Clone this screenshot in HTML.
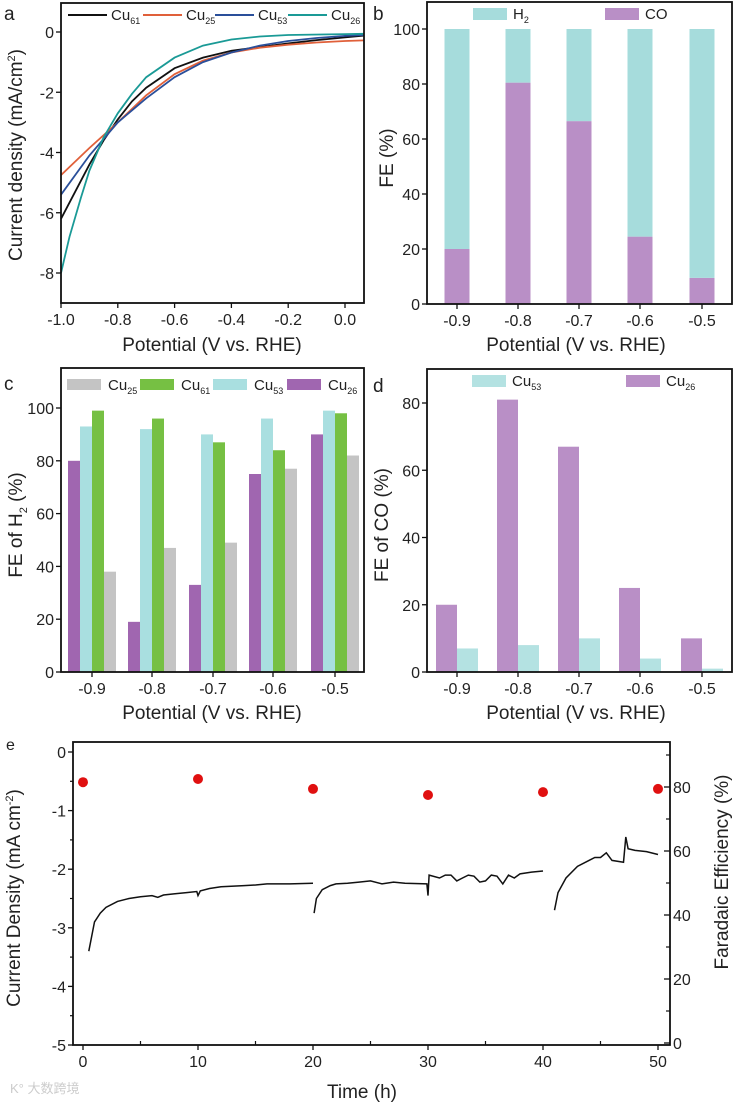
<!DOCTYPE html>
<html><head><meta charset="utf-8"><style>
body{margin:0;background:#fff}
svg{display:block;font-family:"Liberation Sans",Arial,sans-serif}
</style></head><body>
<svg id="fig" width="733" height="1104" viewBox="0 0 733 1104" xmlns="http://www.w3.org/2000/svg"></svg>
<script>
// ---- Panel a data ----
const aNames=["Cu61","Cu25","Cu53","Cu26"];
const aColors=["#111","#e0603a","#2a4f9a","#1a9a96"];
const aX61=[-1,-0.95,-0.9,-0.85,-0.8,-0.75,-0.7,-0.6,-0.5,-0.4,-0.3,-0.2,-0.1,0,0.067];
const aY61=[-6.2,-5.3,-4.4,-3.6,-2.9,-2.3,-1.85,-1.2,-0.85,-0.62,-0.5,-0.38,-0.27,-0.18,-0.12];
const aX25=[-1,-0.9,-0.8,-0.7,-0.6,-0.5,-0.4,-0.3,-0.2,-0.1,0,0.067];
const aY25=[-4.75,-3.85,-3.0,-2.1,-1.4,-0.95,-0.68,-0.52,-0.42,-0.35,-0.3,-0.28];
const aX53=[-1,-0.9,-0.8,-0.7,-0.6,-0.5,-0.4,-0.3,-0.2,-0.1,0,0.067];
const aY53=[-5.4,-4.1,-3.0,-2.2,-1.5,-1.0,-0.68,-0.45,-0.3,-0.2,-0.13,-0.1];
const aX26=[-1,-0.97,-0.93,-0.9,-0.85,-0.8,-0.75,-0.7,-0.6,-0.5,-0.4,-0.3,-0.2,0,0.067];
const aY26=[-8.0,-6.8,-5.5,-4.6,-3.5,-2.7,-2.05,-1.5,-0.85,-0.45,-0.25,-0.15,-0.1,-0.07,-0.06];
// ---- Panel b-d data ----
const potentials=["-0.9","-0.8","-0.7","-0.6","-0.5"];
const bCO=[20,80.5,66.5,24.5,9.5];
const cCu26=[80,19,33,75,90];
const cCu53=[93,92,90,96,99];
const cCu61=[99,96,87,84,98];
const cCu25=[38,47,49,77,82];
const dCu26=[20,81,67,25,10];
const dCu53=[7,8,10,4,1];
// ---- Panel e data ----
const eT1=[0.5,1,1.5,2,3,4,5,6,6.5,7,8,9,9.9,10,10.2,11,12,14,15,16,18,20];
const eJ1=[-3.4,-2.9,-2.75,-2.65,-2.55,-2.5,-2.47,-2.45,-2.48,-2.44,-2.42,-2.4,-2.38,-2.45,-2.37,-2.33,-2.3,-2.28,-2.27,-2.25,-2.25,-2.24];
const eT2=[20.1,20.3,20.8,21.5,22,23,24,25,26,27,28,29.9,30,30.1,31,31.5,32,32.5,33,33.5,34,34.5,35,35.5,36,36.5,37,37.5,38,39,40];
const eJ2=[-2.75,-2.5,-2.35,-2.28,-2.25,-2.24,-2.22,-2.2,-2.25,-2.22,-2.24,-2.25,-2.45,-2.1,-2.15,-2.1,-2.1,-2.2,-2.15,-2.1,-2.12,-2.22,-2.2,-2.1,-2.12,-2.25,-2.1,-2.15,-2.08,-2.05,-2.03];
const eT3=[41,41.3,42,43,44,44.5,45,45.5,46,47,47.2,47.4,48,49,50];
const eJ3=[-2.7,-2.4,-2.15,-1.95,-1.85,-1.8,-1.8,-1.72,-1.85,-1.88,-1.45,-1.65,-1.68,-1.7,-1.75];
const eTimes=[0,10,20,30,40,50];
const eFE=[81.5,82.5,79.4,77.5,78.4,79.4];

const S="http://www.w3.org/2000/svg";
const svg=document.getElementById('fig');
const TS=16, TT=19;
function el(tag,attrs,parent){const e=document.createElementNS(S,tag);for(const k in attrs)e.setAttribute(k,attrs[k]);(parent||svg).appendChild(e);return e;}
function txt(x,y,s,size,anchor,parent,rot){const t=el('text',{x:x,y:y,'font-size':size,'text-anchor':anchor||'middle',fill:'#222'},parent);if(rot)t.setAttribute('transform',`rotate(${rot} ${x} ${y})`);t.innerHTML=s;return t;}
function lin(d0,d1,r0,r1){return v=>r0+(v-d0)*(r1-r0)/(d1-d0);}
function box(x0,y0,x1,y1,name){const r=el('rect',{x:x0,y:y0,width:x1-x0,height:y1-y0,fill:'none',stroke:'#111','stroke-width':1.8});

}
function ytick(x,y,label,size,side){const d=side==='r'?1:-1;el('line',{x1:x,y1:y,x2:x+d*5,y2:y,stroke:'#111','stroke-width':1.3});
const t=txt(x+d*7,y+6,label,size,side==='r'?'start':'end');

}
function xtick(x,y,label,size){el('line',{x1:x,y1:y,x2:x,y2:y+5,stroke:'#111','stroke-width':1.3});
if(label!==null){const t=txt(x,y+22,label,size);

}}
function sub(s){return `<tspan>${s.slice(0,2)}</tspan><tspan font-size="9" dy="4">${s.slice(2)}</tspan>`;}

// ===== Panel a =====
(function(){
const g=el('g',{});


const X=lin(-1,0,61,345),Y=lin(0,-8,32,273);
const series=[[aX61,aY61],[aX25,aY25],[aX53,aY53],[aX26,aY26]];
series.forEach((s,i)=>{let d='';s[0].forEach((x,j)=>{d+=(j?'L':'M')+X(x).toFixed(1)+' '+Y(s[1][j]).toFixed(1);});
const p=el('path',{d:d,fill:'none',stroke:aColors[i],'stroke-width':1.8},g);

});
box(61,3,364,303,'panel-a-axes');
[0,-2,-4,-6,-8].forEach(v=>ytick(61,Y(v),v,TS));
[-1.0,-0.8,-0.6,-0.4,-0.2,0.0].forEach(v=>xtick(X(v),303,v.toFixed(1),TS));
const t1=txt(212,351,'Potential (V vs. RHE)',TT);
const t2=txt(22,155,'Current density (mA/cm<tspan font-size="11" dy="-7">2</tspan><tspan dy="7">)</tspan>',TT,'middle',null,-90);
const L=txt(4,20,'a',19,'start');
const lx=[68,143,215,288];
aNames.forEach((n,i)=>{el('line',{x1:lx[i],y1:15,x2:lx[i]+39,y2:15,stroke:aColors[i],'stroke-width':2});
const t=txt(lx[i]+43,20,sub(n),15,'start');

});
})();

// ===== Panel b =====
(function(){
const Y=lin(0,100,304,29);const cx=[457,518,579,640,702];
potentials.forEach((p,i)=>{
const co=el('rect',{x:cx[i]-12.5,y:Y(bCO[i]),width:25,height:Y(0)-Y(bCO[i]),fill:'#b98fc6'});


const h=el('rect',{x:cx[i]-12.5,y:Y(100),width:25,height:Y(bCO[i])-Y(100),fill:'#a6dcdc'});


xtick(cx[i],304,p,TS);});
box(427,2,732,304,'panel-b-axes');
[0,20,40,60,80,100].forEach(v=>ytick(427,Y(v),v,TS));
const t1=txt(576,351,'Potential (V vs. RHE)',TT);
const t2=txt(393,158,'FE (%)',TT,'middle',null,-90);
const L=txt(373,20,'b',19,'start');
el('rect',{x:473,y:8,width:34,height:12,fill:'#a6dcdc'});
const a=txt(513,19,'H<tspan font-size="9" dy="4">2</tspan>',15,'start');
el('rect',{x:605,y:8,width:34,height:12,fill:'#b98fc6'});
const b=txt(645,19,'CO',15,'start');
})();

// ===== Panel c =====
(function(){
const Y=lin(0,100,672,408);const cx=[92,152,213,273,335];
const sets=[[cCu26,'#a066b0','cu26'],[cCu53,'#a9dfe0','cu53'],[cCu61,'#76c043','cu61'],[cCu25,'#c4c4c4','cu25']];
potentials.forEach((p,i)=>{sets.forEach((s,k)=>{
const r=el('rect',{x:cx[i]-24+k*12,y:Y(s[0][i]),width:12,height:Y(0)-Y(s[0][i]),fill:s[1]});

});
xtick(cx[i],672,p,TS);});
box(61,368,364,672,'panel-c-axes');
[0,20,40,60,80,100].forEach(v=>ytick(61,Y(v),v,TS));
const t1=txt(212,719,'Potential (V vs. RHE)',TT);
const t2=txt(22,525,'FE of H<tspan font-size="11" dy="5">2</tspan><tspan dy="-5"> (%)</tspan>',TT,'middle',null,-90);
const L=txt(4,390,'c',19,'start');
const leg=[[67,'#c4c4c4','Cu25'],[140,'#76c043','Cu61'],[213,'#a9dfe0','Cu53'],[287,'#a066b0','Cu26']];
leg.forEach(l=>{el('rect',{x:l[0],y:379,width:34,height:11,fill:l[1]});
const t=txt(l[0]+41,390,sub(l[2]),15,'start');

});
})();

// ===== Panel d =====
(function(){
const Y=lin(0,80,672,403);const cx=[457,518,579,640,702];
potentials.forEach((p,i)=>{
const a=el('rect',{x:cx[i]-21,y:Y(dCu26[i]),width:21,height:Y(0)-Y(dCu26[i]),fill:'#b98fc6'});


const b=el('rect',{x:cx[i],y:Y(dCu53[i]),width:21,height:Y(0)-Y(dCu53[i]),fill:'#b4e2e2'});


xtick(cx[i],672,p,TS);});
box(427,369,732,672,'panel-d-axes');
[0,20,40,60,80].forEach(v=>ytick(427,Y(v),v,TS));
const t1=txt(576,719,'Potential (V vs. RHE)',TT);
const t2=txt(388,525,'FE of CO (%)',TT,'middle',null,-90);
const L=txt(373,392,'d',19,'start');
el('rect',{x:472,y:375,width:34,height:12,fill:'#b4e2e2'});
const a=txt(512,386,sub('Cu53'),15,'start');
el('rect',{x:626,y:375,width:34,height:12,fill:'#b98fc6'});
const b=txt(666,386,sub('Cu26'),15,'start');
})();

// ===== Panel e =====
(function(){
const X=lin(0,50,83,658),Y=lin(0,-5,752,1045),YR=lin(0,80,1043,787);
[[eT1,eJ1],[eT2,eJ2],[eT3,eJ3]].forEach((s,k)=>{let d='';s[0].forEach((t,j)=>{d+=(j?'L':'M')+X(t).toFixed(1)+' '+Y(s[1][j]).toFixed(1);});
const p=el('path',{d:d,fill:'none',stroke:'#111','stroke-width':1.5});

});
eTimes.forEach((t,i)=>{const c=el('circle',{cx:X(t),cy:YR(eFE[i]),r:5,fill:'#e01010'});

});
box(73,742,670,1045,'panel-e-axes');
[0,-1,-2,-3,-4,-5].forEach(v=>ytick(73,Y(v),v,TS));
[-0.5,-1.5,-2.5,-3.5,-4.5].forEach(v=>el('line',{x1:73,y1:Y(v),x2:70,y2:Y(v),stroke:'#111','stroke-width':1.2}));
[0,20,40,60,80].forEach(v=>{el('line',{x1:670,y1:YR(v),x2:664,y2:YR(v),stroke:'#111','stroke-width':1.3});
const t=txt(673,YR(v)+6,v,TS,'start');});
[10,30,50,70,90].forEach(v=>el('line',{x1:670,y1:YR(v),x2:666,y2:YR(v),stroke:'#111','stroke-width':1.2}));
[0,10,20,30,40,50].forEach(v=>xtick(X(v),1045,v,TS));
[5,15,25,35,45].forEach(v=>el('line',{x1:X(v),y1:1045,x2:X(v),y2:1041,stroke:'#111','stroke-width':1.2}));
const t1=txt(362,1098,'Time (h)',TT);
const t2=txt(20,898,'Current Density (mA cm<tspan font-size="11" dy="-7">-2</tspan><tspan dy="7">)</tspan>',TT,'middle',null,-90);
const t3=txt(728,872,'Faradaic Efficiency (%)',TT,'middle',null,-90);
const L=txt(6,750,'e',16,'start');
const w=txt(10,1093,'K° 大数跨境',13,'start');w.setAttribute('fill','#ccc');w.setAttribute('font-family','"Liberation Sans","Noto Sans CJK SC",sans-serif');


})();
</script>
</body></html>
